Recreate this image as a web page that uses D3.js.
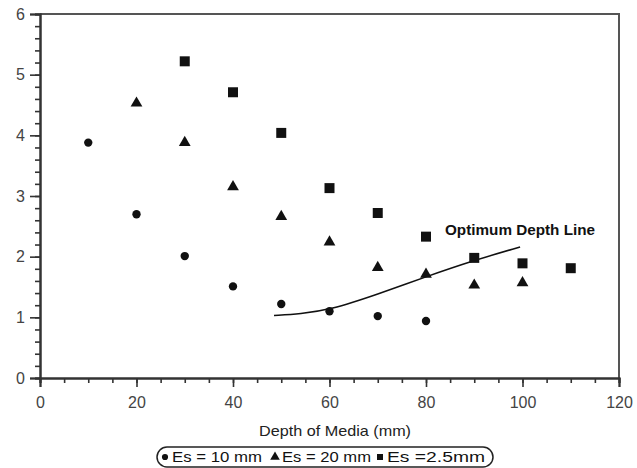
<!DOCTYPE html>
<html>
<head>
<meta charset="utf-8">
<script src="https://cdn.jsdelivr.net/npm/d3@7"></script>
<style>
    body { margin: 0; background: #fff; }
    svg { font-family: "Liberation Sans", Arial, sans-serif; }
</style>
</head>
<body>
<div id="chart"></div>
<script>

// Es = 10 mm (circles)
var depth10 = [10, 20, 30, 40, 50, 60, 70, 80];
var es10 = [3.88, 2.70, 2.01, 1.51, 1.22, 1.10, 1.02, 0.94];

// Es = 20 mm (triangles)
var depth20 = [20, 30, 40, 50, 60, 70, 80, 90, 100];
var es20 = [4.53, 3.88, 3.15, 2.66, 2.24, 1.82, 1.71, 1.53, 1.57];

// Es = 2.5 mm (squares)
var depth25 = [30, 40, 50, 60, 70, 80, 90, 100, 110];
var es25 = [5.22, 4.71, 4.04, 3.13, 2.72, 2.33, 1.98, 1.89, 1.81];

// optimum depth line
var optDepth = [48.5, 54, 60, 70, 80, 90, 99.5];
var optValue = [1.03, 1.06, 1.12, 1.38, 1.67, 1.94, 2.16];

var xTicks = [0, 20, 40, 60, 80, 100, 120];
var yTicks = [0, 1, 2, 3, 4, 5, 6];
var legendLabels = ['Es = 10 mm', 'Es = 20 mm', 'Es =2.5mm'];

var width = 637, height = 468;
var margin = {left: 40, right: 18, top: 14, bottom: 90};

var svg = d3.select('#chart').append('svg')
    .attr('width', width)
    .attr('height', height);

var x = d3.scaleLinear().domain([0, 120]).range([margin.left, width - margin.right]);
var y = d3.scaleLinear().domain([0, 6]).range([height - margin.bottom, margin.top]);

var axisColor = '#333';

// frame on top and right
svg.append('path')
    .attr('d', 'M' + x(0) + ',' + y(6) + 'H' + x(120) + 'V' + y(0))
    .attr('fill', 'none')
    .attr('stroke', '#555')
    .attr('stroke-width', 2);

// minor ticks
var xMinor = svg.append('g')
    .attr('transform', 'translate(0,' + y(0) + ')')
    .call(d3.axisBottom(x).tickValues(d3.range(0, 121, 5)).tickSize(5).tickFormat(''));
var yMinor = svg.append('g')
    .attr('transform', 'translate(' + x(0) + ',0)')
    .call(d3.axisLeft(y).tickValues(d3.range(0, 31).map(function(d){ return d / 5; })).tickSize(5).tickFormat(''));

// major ticks + labels
var xAxis = svg.append('g')
    .attr('transform', 'translate(0,' + y(0) + ')')
    .call(d3.axisBottom(x).tickValues(xTicks).tickSize(9).tickPadding(8).tickFormat(d3.format('d')));
var yAxis = svg.append('g')
    .attr('transform', 'translate(' + x(0) + ',0)')
    .call(d3.axisLeft(y).tickValues(yTicks).tickSize(10).tickPadding(5).tickFormat(d3.format('d')));

[xMinor, yMinor, xAxis, yAxis].forEach(function(g){
    g.selectAll('line').attr('stroke', axisColor).attr('stroke-width', 1.6);
    g.select('.domain').attr('stroke', axisColor).attr('stroke-width', 2);
    g.selectAll('text').attr('fill', '#444').style('font-size', '16px');
});
xAxis.selectAll('text').attr('dy', '0.8em');

// axis title
svg.append('text')
    .attr('x', 335)
    .attr('y', 436)
    .attr('text-anchor', 'middle')
    .attr('textLength', 152)
    .attr('lengthAdjust', 'spacingAndGlyphs')
    .style('font-size', '15px')
    .attr('fill', '#222')
    .text('Depth of Media (mm)');

// optimum depth line
var line = d3.line()
    .x(function(d){ return x(d[0]); })
    .y(function(d){ return y(d[1]); })
    .curve(d3.curveBasis);

svg.append('path')
    .datum(d3.zip(optDepth, optValue))
    .attr('d', line)
    .attr('fill', 'none')
    .attr('stroke', '#111')
    .attr('stroke-width', 1.5);

svg.append('text')
    .attr('x', 445)
    .attr('y', 235)
    .attr('textLength', 150)
    .attr('lengthAdjust', 'spacingAndGlyphs')
    .style('font-size', '14px')
    .style('font-weight', 'bold')
    .attr('fill', '#111')
    .text('Optimum Depth Line');

// markers
function drawSeries(xs, ys, symbol, size){
    svg.append('g').selectAll('path')
        .data(d3.zip(xs, ys))
        .enter().append('path')
        .attr('transform', function(d){ return 'translate(' + x(d[0]) + ',' + y(d[1]) + ')'; })
        .attr('d', d3.symbol().type(symbol).size(size))
        .attr('fill', '#111');
}

drawSeries(depth10, es10, d3.symbolCircle, 55);
drawSeries(depth20, es20, d3.symbolTriangle, 60);
drawSeries(depth25, es25, d3.symbolSquare, 100);

// legend
var legend = svg.append('g');
legend.append('rect')
    .attr('x', 157).attr('y', 447)
    .attr('width', 336).attr('height', 20)
    .attr('rx', 10)
    .attr('fill', 'none')
    .attr('stroke', '#222')
    .attr('stroke-width', 1.5);

var legendSymbols = [d3.symbolCircle, d3.symbolTriangle, d3.symbolSquare];
var legendSizes = [30, 40, 36];
var legendX = [165, 275, 380];
var legendWidths = [90, 89, 98];

legendLabels.forEach(function(label, i){
    legend.append('path')
        .attr('transform', 'translate(' + legendX[i] + ',457)')
        .attr('d', d3.symbol().type(legendSymbols[i]).size(legendSizes[i]))
        .attr('fill', '#111');
    legend.append('text')
        .attr('x', legendX[i] + 7)
        .attr('y', 462)
        .attr('textLength', legendWidths[i])
        .attr('lengthAdjust', 'spacingAndGlyphs')
        .style('font-size', '15px')
        .attr('fill', '#111')
        .text(label);
});

</script>
</body>
</html>
